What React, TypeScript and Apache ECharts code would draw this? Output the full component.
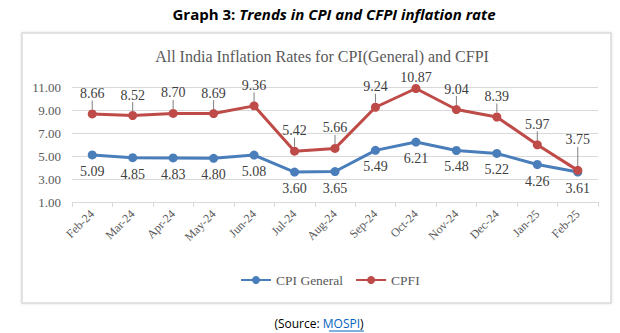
import React, { useEffect, useRef } from "react";
import * as echarts from "echarts";

const months = ["Feb-24", "Mar-24", "Apr-24", "May-24", "Jun-24", "Jul-24", "Aug-24", "Sep-24", "Oct-24", "Nov-24", "Dec-24", "Jan-25", "Feb-25"];
const cpiGeneral = [5.09, 4.85, 4.83, 4.8, 5.08, 3.6, 3.65, 5.49, 6.21, 5.48, 5.22, 4.26, 3.61];
const cfpi = [8.66, 8.52, 8.7, 8.69, 9.36, 5.42, 5.66, 9.24, 10.87, 9.04, 8.39, 5.97, 3.75];
const yTicks = [1, 3, 5, 7, 9, 11];

const SERIF = "'Liberation Serif', 'DejaVu Serif', serif";
const SANS = "'Open Sans', 'Noto Sans', sans-serif";

export default function App() {
  const ref = useRef<HTMLDivElement>(null);
  useEffect(() => {
    if (!ref.current) return;
    const chart = echarts.init(ref.current, null, { renderer: "svg" });
    const lastIdx = cfpi.length - 1;
    const peakIdx = cfpi.indexOf(Math.max(...cfpi));
    chart.setOption({
      animation: false,
      backgroundColor: "#ffffff",
      graphic: [
        {
          type: "rect",
          z: -10,
          shape: { x: 22, y: 33, width: 589, height: 270 },
          style: { fill: "#ffffff", stroke: "#d9d9d9", lineWidth: 1.5, shadowBlur: 3, shadowColor: "rgba(0,0,0,0.12)" },
        },
        {
          type: "text",
          x: 334,
          y: 14,
          style: {
            text: "{b|Graph 3: }{bi|Trends in CPI and CFPI inflation rate}",
            align: "center",
            verticalAlign: "middle",
            rich: {
              b: { font: `bold 15px ${SANS}`, fill: "#000000" },
              bi: { font: `italic bold 15px ${SANS}`, fill: "#000000" },
            },
          },
        },
        {
          type: "text",
          x: 322,
          y: 56,
          style: {
            text: "All India Inflation Rates for CPI(General) and CFPI",
            align: "center",
            verticalAlign: "middle",
            font: `16px ${SERIF}`,
            fill: "#595959",
          },
        },
        {
          type: "text",
          x: 319,
          y: 323,
          style: {
            text: "{a|(Source: }{l|MOSPI}{a|)}",
            align: "center",
            verticalAlign: "middle",
            rich: {
              a: { font: `12px ${SANS}`, fill: "#000000" },
              l: { font: `12px ${SANS}`, fill: "#0563C1" },
            },
          },
        },
        {
          type: "line",
          shape: { x1: 329, y1: 331, x2: 364, y2: 331 },
          style: { stroke: "#0563C1", lineWidth: 1 },
        },
      ],
      grid: { left: 72, right: 22, top: 87, bottom: 131 },
      legend: {
        bottom: 41,
        left: 235,
        itemWidth: 30,
        itemHeight: 10,
        itemGap: 12,
        textStyle: { fontFamily: SERIF, fontSize: 13.5, color: "#595959" },
        data: ["CPI General", "CPFI"],
      },
      xAxis: {
        type: "category",
        data: months,
        boundaryGap: true,
        axisLine: { lineStyle: { color: "#d9d9d9", width: 1 } },
        axisTick: { show: true, length: 5, lineStyle: { color: "#d9d9d9" } },
        axisLabel: { rotate: 45, margin: 10, fontFamily: SERIF, fontSize: 12, color: "#595959" },
      },
      yAxis: {
        type: "value",
        min: yTicks[0],
        max: yTicks[yTicks.length - 1],
        interval: 2,
        axisLine: { show: false },
        axisTick: { show: false },
        splitLine: { lineStyle: { color: "#d9d9d9", width: 1 } },
        axisLabel: {
          margin: 11,
          fontFamily: SERIF,
          fontSize: 13,
          color: "#595959",
          formatter: (v: number) => v.toFixed(2),
        },
      },
      series: [
        {
          name: "CPI General",
          type: "line",
          data: cpiGeneral,
          color: "#4a7ebb",
          lineStyle: { width: 3, color: "#4a7ebb" },
          symbol: "circle",
          symbolSize: 9,
          itemStyle: { color: "#4a7ebb" },
          label: {
            show: true,
            position: "bottom",
            distance: 5,
            fontFamily: SERIF,
            fontSize: 14,
            color: "#404040",
            formatter: (p: any) => Number(p.value).toFixed(2),
          },
        },
        {
          name: "CPFI",
          type: "line",
          data: cfpi,
          color: "#be4b48",
          lineStyle: { width: 3, color: "#be4b48" },
          symbol: "circle",
          symbolSize: 9,
          itemStyle: { color: "#be4b48" },
          label: {
            show: true,
            position: "top",
            distance: 9,
            fontFamily: SERIF,
            fontSize: 14,
            color: "#404040",
            formatter: (p: any) => Number(p.value).toFixed(2),
          },
          labelLine: { show: true, lineStyle: { color: "#7f7f7f", width: 1 } },
          labelLayout: (p: any) => {
            if (p.dataIndex === lastIdx) return { dy: -10 };
            if (p.dataIndex === peakIdx) return { dy: 10 };
            return {};
          },
        },
      ],
    });
    return () => chart.dispose();
  }, []);
  return <div ref={ref} style={{ position: "absolute", left: 0, top: 0, width: 620, height: 333 }} />;
}
